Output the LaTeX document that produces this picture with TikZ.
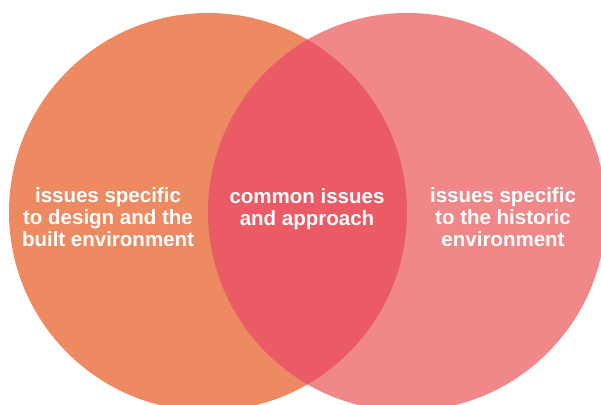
\documentclass[tikz,border=0pt]{standalone}
\usepackage{fontspec}
\setmainfont{Liberation Sans}
\definecolor{leftcol}{RGB}{238,138,98}
\definecolor{rightcol}{RGB}{240,136,137}
\definecolor{lenscol}{RGB}{234,91,102}
\tikzset{
  lbl/.style={text=white, align=center, inner sep=0pt,
    font=\fontsize{20.5pt}{22pt}\selectfont\bfseries}
}
\begin{document}
\begin{tikzpicture}[x=1pt,y=-1pt]
\useasboundingbox (0,0) rectangle (601,404);
\fill[white] (0,0) rectangle (601,404);
\begin{scope}
\clip (0,0) rectangle (601,404);
\fill[leftcol] (208,212) circle (199pt);
\fill[rightcol] (407,212) circle (199pt);
\begin{scope}
\clip (208,212) circle (199pt);
\fill[lenscol] (407,212) circle (199pt);
\end{scope}
\end{scope}
\node[lbl] (left) at (108,217.5) {issues specific\\to design and the\\built environment};
\node[lbl] (mid) at (307,208.8) {common issues\\and approach};
\node[lbl] (right) at (503,217.5) {issues specific\\to the historic\\environment};
\end{tikzpicture}
\end{document}
